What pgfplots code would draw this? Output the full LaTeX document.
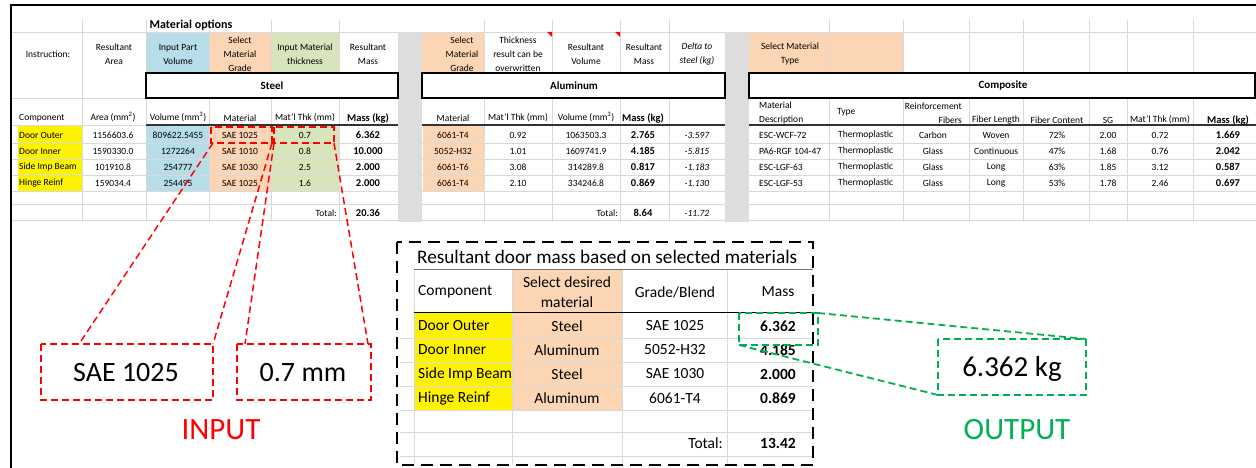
\documentclass[border=0pt]{standalone}
\usepackage{pgfplots}
\pgfplotsset{compat=1.18}
\usepackage{fontspec}
\setmainfont{Carlito}

\definecolor{cBlue}{HTML}{B7DDE8}
\definecolor{cOrange}{HTML}{FCD5B4}
\definecolor{cGreen}{HTML}{D8E4BC}
\definecolor{cGrid}{HTML}{D9D9D9}
\definecolor{cHatch}{HTML}{DDDDDD}
\definecolor{cOut}{HTML}{00B050}

\tikzset{
  ts/.style={font=\fontsize{9.5}{14}\selectfont, inner sep=0pt, align=center},
  tb/.style={font=\fontsize{10.5}{14}\selectfont\bfseries, inner sep=0pt},
  ti/.style={font=\fontsize{9.5}{14}\selectfont\itshape, inner sep=0pt, align=center},
  bs/.style={font=\fontsize{15.5}{20}\selectfont, inner sep=0pt, align=center},
  bb/.style={font=\fontsize{15.5}{20}\selectfont\bfseries, inner sep=0pt},
}

\begin{document}
\begin{tikzpicture}
\begin{axis}[
  width=1256pt, height=468pt, scale only axis,
  xmin=0, xmax=1256, ymin=0, ymax=468,
  y dir=reverse, hide axis, clip=false]

% ---- spreadsheet fills
\fill[cBlue] (146,32) rectangle (209,73);
\fill[cOrange] (209,32) rectangle (271,73);
\fill[cGreen] (271,32) rectangle (339,73);
\fill[yellow] (18,125) rectangle (82,191);
\fill[cBlue] (146,125) rectangle (209,191);
\fill[cOrange] (209,125) rectangle (271,191);
\fill[cGreen] (271,125) rectangle (339,191);
\fill[cOrange] (422,32) rectangle (484,73);
\fill[cOrange] (423,125) rectangle (484,191);
\fill[cOrange] (749,32) rectangle (903,73);
\fill[cHatch] (398,32) rectangle (422,222);
\fill[cHatch] (725,32) rectangle (749,222);

% ---- grid
\draw[cGrid, line width=0.7pt]
  (11,32)--(398,32) (11,98)--(398,98) (11,125)--(398,125) (11,143)--(398,143)
  (11,159)--(398,159) (11,175)--(398,175) (11,191)--(398,191) (11,204)--(398,204) (11,220)--(398,220)
  (422,32)--(725,32) (422,143)--(725,143) (422,159)--(725,159) (422,175)--(725,175)
  (422,191)--(725,191) (422,204)--(725,204) (422,220)--(725,220)
  (749,32)--(1256,32) (749,143)--(1256,143) (749,159)--(1256,159) (749,175)--(1256,175)
  (749,191)--(1256,191) (749,204)--(1256,204) (749,220)--(1256,220)
  (82,20)--(82,222) (146,20)--(146,222) (209,20)--(209,222) (271,20)--(271,222) (339,20)--(339,222)
  (484,20)--(484,222) (552,20)--(552,222) (620,20)--(620,222) (669,20)--(669,222)
  (829,20)--(829,222) (903,20)--(903,222) (969,20)--(969,222) (1023,20)--(1023,222)
  (1089,20)--(1089,222) (1127,20)--(1127,222) (1193,20)--(1193,222);
\draw[black!80, line width=1.3pt] (146,125)--(398,125) (422,125)--(725,125) (749,125)--(1256,125);
\draw[line width=1.4pt, fill=white] (146,73) rectangle (398,98);
\draw[line width=1.4pt, fill=white] (422,73) rectangle (725,98);
\draw[line width=1.4pt, fill=white] (749,73) rectangle (1255,98);
\fill[red] (547,32)--(552,32)--(552,37)--cycle;
\fill[red] (615,32)--(620,32)--(620,37)--cycle;

% ---- headers
\node[font=\fontsize{12}{14}\selectfont\bfseries, inner sep=0pt] at (191,25) {Material options};
\node[ts] at (48,54) {Instruction:};
\node[ts] at (114,54) {Resultant\\Area};
\node[ts] at (178,54) {Input Part\\Volume};
\node[ts] at (240,54) {Select\\Material\\Grade};
\node[ts] at (305,54) {Input Material\\thickness};
\node[ts] at (368,54) {Resultant\\Mass};
\node[ts] at (462,54) {Select\\Material\\Grade};
\node[ts] at (518,54) {Thickness\\result can be\\overwritten};
\node[ts] at (586,54) {Resultant\\Volume};
\node[ts] at (644,54) {Resultant\\Mass};
\node[ti] at (697,54) {Delta to\\steel (kg)};
\node[ts] at (790,54) {Select Material\\Type};
\node[font=\fontsize{11}{13}\selectfont\bfseries, inner sep=0pt] at (272,86) {Steel};
\node[font=\fontsize{11}{13}\selectfont\bfseries, inner sep=0pt] at (574,86) {Aluminum};
\node[font=\fontsize{11}{13}\selectfont\bfseries, inner sep=0pt] at (1003,86) {Composite};

% ---- column headers
\node[ts, anchor=west] at (19,118) {Component};
\node[ts] at (113,117) {Area (mm\textsuperscript{2})};
\node[ts] at (178,117) {Volume (mm\textsuperscript{3})};
\node[ts] at (240,118) {Material};
\node[ts] at (305,118) {Mat’l Thk (mm)};
\node[tb] at (368,118) {Mass (kg)};
\node[ts] at (453,118) {Material};
\node[ts] at (518,118) {Mat’l Thk (mm)};
\node[ts] at (586,117) {Volume (mm\textsuperscript{3})};
\node[tb] at (643,118) {Mass (kg)};
\node[ts, anchor=west, align=left] at (759,113) {Material\\Description};
\node[ts, anchor=west] at (837,112) {Type};
\node[ts, anchor=east, align=right] at (962,113) {Reinforcement\\Fibers};
\node[ts] at (996,120) {Fiber Length};
\node[ts] at (1057,120) {Fiber Content};
\node[ts] at (1108,120) {SG};
\node[ts] at (1160,120) {Mat’l Thk (mm)};
\node[tb] at (1228,120) {Mass (kg)};

% ---- steel rows
\node[ts, anchor=west] at (19,135) {Door Outer};
\node[ts, anchor=west] at (19,151) {Door Inner};
\node[ts, anchor=west] at (19,167) {Side Imp Beam};
\node[ts, anchor=west] at (19,183) {Hinge Reinf};
\node[ts] at (113,135) {1156603.6};
\node[ts] at (113,151) {1590330.0};
\node[ts] at (113,167) {101910.8};
\node[ts] at (113,183) {159034.4};
\node[ts] at (178,135) {809622.5455};
\node[ts] at (178,151) {1272264};
\node[ts] at (178,167) {254777};
\node[ts] at (178,183) {254495};
\node[ts] at (240,135) {SAE 1025};
\node[ts] at (240,151) {SAE 1010};
\node[ts] at (240,167) {SAE 1030};
\node[ts] at (240,183) {SAE 1025};
\node[ts] at (305,135) {0.7};
\node[ts] at (305,151) {0.8};
\node[ts] at (305,167) {2.5};
\node[ts] at (305,183) {1.6};
\node[tb] at (368,135) {6.362};
\node[tb] at (368,151) {10.000};
\node[tb] at (368,167) {2.000};
\node[tb] at (368,183) {2.000};
\node[ts, anchor=east] at (337,213) {Total:};
\node[tb] at (368,213) {20.36};

% ---- aluminum rows
\node[ts] at (453,135) {6061-T4};
\node[ts] at (453,151) {5052-H32};
\node[ts] at (453,167) {6061-T6};
\node[ts] at (453,183) {6061-T4};
\node[ts] at (518,135) {0.92};
\node[ts] at (518,151) {1.01};
\node[ts] at (518,167) {3.08};
\node[ts] at (518,183) {2.10};
\node[ts] at (586,135) {1063503.3};
\node[ts] at (586,151) {1609741.9};
\node[ts] at (586,167) {314289.8};
\node[ts] at (586,183) {334246.8};
\node[tb] at (643,135) {2.765};
\node[tb] at (643,151) {4.185};
\node[tb] at (643,167) {0.817};
\node[tb] at (643,183) {0.869};
\node[ti] at (697,135) {-3.597};
\node[ti] at (697,151) {-5.815};
\node[ti] at (697,167) {-1.183};
\node[ti] at (697,183) {-1.130};
\node[ts, anchor=east] at (618,213) {Total:};
\node[tb] at (643,213) {8.64};
\node[ti] at (697,213) {-11.72};

% ---- composite rows
\node[ts, anchor=west] at (759,135) {ESC-WCF-72};
\node[ts, anchor=west] at (759,151) {PA6-RGF 104-47};
\node[ts, anchor=west] at (759,167) {ESC-LGF-63};
\node[ts, anchor=west] at (759,183) {ESC-LGF-53};
\node[ts, anchor=west] at (838,135) {Thermoplastic};
\node[ts, anchor=west] at (838,151) {Thermoplastic};
\node[ts, anchor=west] at (838,167) {Thermoplastic};
\node[ts, anchor=west] at (838,183) {Thermoplastic};
\node[ts] at (933,135) {Carbon};
\node[ts] at (933,151) {Glass};
\node[ts] at (933,167) {Glass};
\node[ts] at (933,183) {Glass};
\node[ts] at (996,135) {Woven};
\node[ts] at (996,151) {Continuous};
\node[ts] at (996,167) {Long};
\node[ts] at (996,183) {Long};
\node[ts] at (1057,135) {72\%};
\node[ts] at (1057,151) {47\%};
\node[ts] at (1057,167) {63\%};
\node[ts] at (1057,183) {53\%};
\node[ts] at (1108,135) {2.00};
\node[ts] at (1108,151) {1.68};
\node[ts] at (1108,167) {1.85};
\node[ts] at (1108,183) {1.78};
\node[ts] at (1160,135) {0.72};
\node[ts] at (1160,151) {0.76};
\node[ts] at (1160,167) {3.12};
\node[ts] at (1160,183) {2.46};
\node[tb] at (1228,135) {1.669};
\node[tb] at (1228,151) {2.042};
\node[tb] at (1228,167) {0.587};
\node[tb] at (1228,183) {0.697};

% ---- outer frame
\draw[line width=2.8pt] (11,468)--(11,5)--(1256,5);

% ---- result table
\fill[yellow] (414,312) rectangle (512,410);
\fill[cOrange] (512,269) rectangle (622,410);
\draw[cGrid, line width=0.7pt]
  (400,338)--(813,338) (400,362)--(813,362) (400,386)--(813,386) (400,410)--(813,410)
  (400,432)--(813,432) (400,456)--(813,456)
  (414,269)--(414,465) (512,269)--(512,465) (622,269)--(622,465) (727,269)--(727,465);
\draw[black!55, line width=0.8pt] (414,269)--(813,269);
\draw[black, line width=0.9pt] (414,312)--(813,312);
\node[font=\fontsize{19.2}{22}\selectfont, inner sep=0pt, anchor=west] at (417,257) {Resultant door mass based on selected materials};
\node[bs, anchor=west] at (418,292) {Component};
\node[bs] at (567,292) {Select desired\\material};
\node[bs] at (675,292) {Grade/Blend};
\node[bs] at (778,292) {Mass};
\node[bs, anchor=west] at (418,326) {Door Outer};
\node[bs, anchor=west] at (418,350) {Door Inner};
\node[bs, anchor=west] at (418,374) {Side Imp Beam};
\node[bs, anchor=west] at (418,398) {Hinge Reinf};
\node[bs] at (567,326) {Steel};
\node[bs] at (567,350) {Aluminum};
\node[bs] at (567,374) {Steel};
\node[bs] at (567,398) {Aluminum};
\node[bs] at (675,326) {SAE 1025};
\node[bs] at (675,350) {5052-H32};
\node[bs] at (675,374) {SAE 1030};
\node[bs] at (675,398) {6061-T4};
\node[bb] at (778,326) {6.362};
\node[bb] at (778,350) {4.185};
\node[bb] at (778,374) {2.000};
\node[bb] at (778,398) {0.869};
\node[bs, anchor=east] at (723,443) {Total:};
\node[bb] at (778,443) {13.42};
\draw[black, line width=2.4pt, dash pattern=on 12pt off 7pt] (397,242) rectangle (813,465);

% ---- input callouts
\draw[red, line width=2pt, dash pattern=on 7pt off 4pt] (211,127) rectangle (272,143);
\draw[red, line width=2pt, dash pattern=on 7pt off 4pt] (274,127) rectangle (334,143);
\draw[red, line width=1.5pt, dash pattern=on 7pt off 4pt]
  (213,143)--(79,344) (272,143)--(213,344) (274,143)--(245,344) (334,143)--(368,344);
\draw[red, line width=1.5pt, dash pattern=on 7pt off 4pt] (41,344) rectangle (213,400);
\draw[red, line width=1.5pt, dash pattern=on 7pt off 4pt] (237,344) rectangle (371,400);
\node[font=\fontsize{28}{30}\selectfont, inner sep=0pt] at (126,373) {SAE 1025};
\node[font=\fontsize{28}{30}\selectfont, inner sep=0pt] at (303,373) {0.7 mm};
\node[font=\fontsize{31}{33}\selectfont, inner sep=0pt, text=red] at (221,430) {INPUT};

% ---- output callouts
\draw[cOut, line width=1.8pt, dash pattern=on 7pt off 4pt] (739,313) rectangle (818,345);
\draw[cOut, line width=1.8pt, dash pattern=on 7pt off 4pt]
  (818,313)--(1086,339) (739,345)--(938,395);
\draw[cOut, line width=1.5pt, dash pattern=on 7pt off 4pt] (938,339) rectangle (1086,395);
\node[font=\fontsize{29}{31}\selectfont, inner sep=0pt] at (1012,369) {6.362 kg};
\node[font=\fontsize{31}{33}\selectfont, inner sep=0pt, text=cOut] at (1017,430) {OUTPUT};

\end{axis}
\pgfresetboundingbox
\path[use as bounding box] (current axis.south west) rectangle (current axis.north east);
\end{tikzpicture}
\end{document}
